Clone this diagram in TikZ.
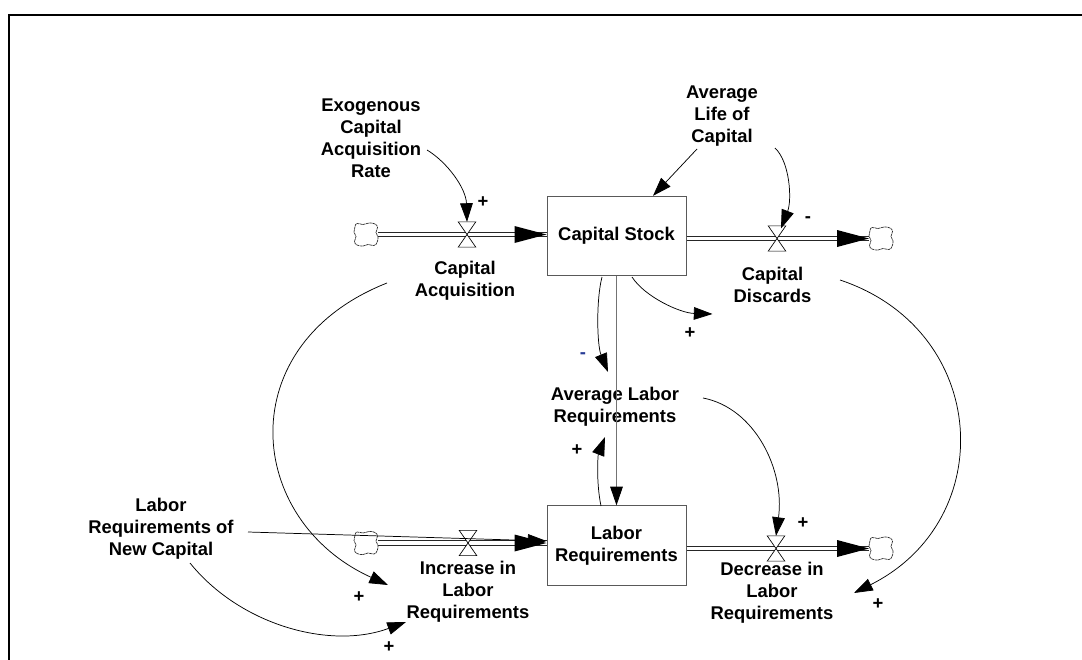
\documentclass[tikz,border=0pt]{standalone}
\usepackage{fontspec}
\setmainfont{Liberation Sans}
\usetikzlibrary{arrows.meta,calc}
\definecolor{minusblue}{RGB}{40,60,150}
\begin{document}
\begin{tikzpicture}[x=0.75pt,y=-0.75pt,
  lbl/.style={align=center,font=\bfseries\fontsize{13.8}{16.5}\selectfont,inner sep=0pt},
  sgn/.style={font=\bfseries\fontsize{13.8}{16.5}\selectfont,inner sep=0pt},
  stockbox/.style={draw=black!65,line width=0.75pt,minimum width=104.25pt,minimum height=59.5pt,inner sep=0pt,align=center,font=\bfseries\fontsize{13.8}{16.5}\selectfont},
  valvenode/.style={minimum width=12.75pt,minimum height=18.5pt,inner sep=0pt},
  cloudnode/.style={minimum width=17.5pt,minimum height=17.5pt,inner sep=0pt},
  cloudline/.style={draw=black!85,line width=0.5pt,dash pattern=on 2pt off 0.45pt,fill=white},
  pipe/.style={line width=0.6pt,double=white,double distance=2.6pt,draw=black!85},
  valveshape/.style={fill=white,draw=black,line width=0.5pt},
  infolink/.style={-{Triangle[length=14pt,width=9.5pt]},line width=0.55pt},
]
\useasboundingbox (0,0) rectangle (1082,660);
\draw[line width=1.5pt] (1082,15) -- (9,15) -- (9,660);

% stocks
\node[stockbox] (cs) at (616.5,236) {Capital Stock};
\node[stockbox] (lr) at (616.5,545.5) {Labor\\Requirements};

% clouds
\node[cloudnode] (cl1) at (366,234.5) {};
\node[cloudnode] (cl2) at (881,238.5) {};
\node[cloudnode] (cl3) at (366,543) {};
\node[cloudnode] (cl4) at (881,548.5) {};

% valves
\node[valvenode] (v1) at (467,234.5) {};
\node[valvenode] (v2) at (777,238.5) {};
\node[valvenode] (v3) at (468,543) {};
\node[valvenode] (v4) at (776,548.5) {};

% pipes
\draw[pipe] (cl1.east) -- (cl1 -| cs.west);
\draw[pipe] (cl2 -| cs.east) -- (cl2.west);
\draw[pipe] (cl3.east) -- (cl3 -| lr.west);
\draw[pipe] (cl4 -| lr.east) -- (cl4.west);

\foreach \c in {cl1,cl2,cl3,cl4}
  \draw[cloudline,shift={(\c)}] plot[smooth cycle,tension=0.75] coordinates {
    (-9,-11) (-3,-10) (3,-11.5) (9,-10.5) (11.5,-7) (10,-2) (12,2.5) (11,8)
    (8,11) (2,10) (-3,11.5) (-9,10.5) (-11.5,7) (-10,2) (-12,-2.5) (-11,-8)};

\foreach \v in {v1,v2,v3,v4}
  \draw[valveshape] (\v.north west) -- (\v.north east) -- (\v.south west) -- (\v.south east) -- cycle;

\fill (cl1 -| cs.west) -- ++(-32,-8.5) -- ++(0,17) -- cycle;
\fill (cl2.west) -- ++(-32,-8.5) -- ++(0,17) -- cycle;
\fill (cl3 -| lr.west) -- ++(-32,-8.5) -- ++(0,17) -- cycle;
\fill (cl4.west) -- ++(-32,-8.5) -- ++(0,17) -- cycle;

% labels
\node[lbl] (exo) at (371,138.5) {Exogenous\\Capital\\Acquisition\\Rate};
\node[lbl] (alc) at (722,116) {Average\\Life of\\Capital};
\node[lbl] (ca) at (465,281) {Capital\\Acquisition};
\node[lbl] (cd) at (772.5,285) {Capital\\Discards};
\node[lbl] (alr) at (615,407) {Average Labor\\Requirements};
\node[lbl] (lrnc) at (161,529) {Labor\\Requirements of\\New Capital};
\node[lbl] (ilr) at (468,591.5) {Increase in\\Labor\\Requirements};
\node[lbl] (dlr) at (772,593) {Decrease in\\Labor\\Requirements};

% links
\draw[infolink] ($(exo)+(56,11.5)$) .. controls (447,162) and (466,188) .. (v1.north);
\draw[infolink] ($(alc)+(-25,33)$) -- ($(cs.north)+(36.5,0)$);
\draw[infolink] ($(alc)+(53,32)$) .. controls (790,162) and (792,200) .. ($(v2)+(4,-10)$);
\draw[infolink] ($(cs)+(-14.5,41)$) .. controls (596,300) and (597,345) .. ($(alr)+(-7,-35)$);
\draw[infolink] ($(cs)+(15.5,41)$) .. controls (645,297) and (680,313) .. ($(cd)+(-60,29)$);
\draw[-{Triangle[length=14pt,width=9.5pt,color=black]},line width=0.6pt,draw=black!55] (cs.south) -- (lr.north);
\draw[infolink] ($(lr)+(-15.5,-39.5)$) .. controls (596,482) and (598,455) .. ($(alr)+(-10,30)$);
\draw[infolink] ($(alr)+(88,-9)$) .. controls (755,408) and (785,470) .. (v4.north);
\draw[infolink] ($(ca)+(-78,2)$) .. controls (230,345) and (245,520) .. ($(ilr)+(-80,-6.5)$);
\draw[infolink] ($(lrnc)+(87,3)$) -- ($(lr.west)+(0,-4.5)$);
\draw[infolink] ($(lrnc)+(29,34)$) .. controls (240,625) and (330,650) .. ($(ilr)+(-62,30.5)$);
\draw[infolink] ($(cd)+(67.5,-5)$) .. controls (990,330) and (1000,520) .. ($(dlr)+(82,0)$);

% polarity signs
\node[sgn] (s1) at (483,202) {+};
\node[sgn] (s2) at (808,220) {-};
\node[sgn,text=minusblue] (s3) at (583,356) {-};
\node[sgn] (s4) at (690,333) {+};
\node[sgn] (s5) at (577,450) {+};
\node[sgn] (s6) at (803,523) {+};
\node[sgn] (s7) at (359,597) {+};
\node[sgn] (s8) at (389,647) {+};
\node[sgn] (s9) at (878,604) {+};
\end{tikzpicture}
\end{document}
